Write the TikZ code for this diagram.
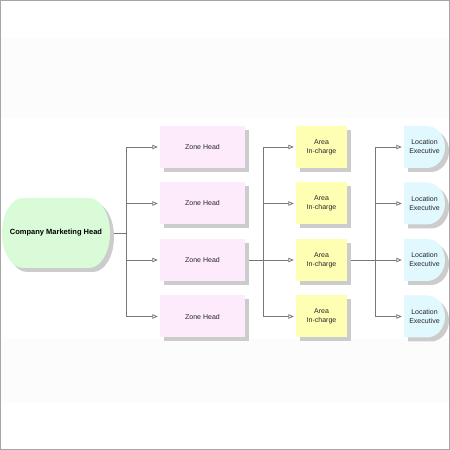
\documentclass[tikz,border=0pt]{standalone}
\usepackage{fontspec}
\setmainfont{Liberation Sans}
\usetikzlibrary{arrows.meta,shadows,backgrounds}
\definecolor{headgreen}{HTML}{D9FBD7}
\definecolor{zonepink}{HTML}{FDEBFC}
\definecolor{areayellow}{HTML}{FFFFB3}
\definecolor{loccyan}{HTML}{E0F8FE}
\definecolor{shadowgray}{HTML}{CCCCCC}
\definecolor{linkgray}{HTML}{787878}
\definecolor{bandgray}{HTML}{FCFCFC}

\begin{document}
\begin{tikzpicture}[x=1pt,y=1pt,
    box/.style={minimum height=42pt,inner sep=0pt,align=center,
        font=\fontsize{7}{9}\selectfont,text=black!85},
    shade/.style={drop shadow={shadow xshift=4pt,shadow yshift=-4pt,
        fill=shadowgray,opacity=1}},
    wire/.style={draw=linkgray,line width=0.8pt},
    link/.style={wire,-{Triangle[open,length=5.5pt,width=4.5pt,fill=white]},shorten >=2pt}]
    \useasboundingbox (0,0) rectangle (450,450);
    \fill[shadowgray] (27,248) -- (93,248) arc[start angle=90,end angle=-90,x radius=21pt,y radius=35pt]
        -- (27,178) arc[start angle=270,end angle=90,x radius=21pt,y radius=35pt] -- cycle;
    \fill[headgreen] (23,252) -- (89,252) arc[start angle=90,end angle=-90,x radius=21pt,y radius=35pt]
        -- (23,182) arc[start angle=270,end angle=90,x radius=21pt,y radius=35pt] -- cycle;
    \node[box,minimum width=108pt,minimum height=70pt,text=black,
        font=\bfseries\fontsize{7.5}{9}\selectfont] (head) at (56,217) {Company Marketing Head};
    \foreach \i/\r in {1/303,2/246.5,3/190,4/133.5} {
        \node[box,shade,fill=zonepink,minimum width=85pt] (zone\i) at (202.5,\r) {Zone Head};
        \node[box,shade,fill=areayellow,minimum width=51pt] (area\i) at (321.5,\r) {Area\\In-charge};
        \fill[shadowgray] (408,\r+17) -- (431,\r+17)
            arc[start angle=90,end angle=-90,x radius=18pt,y radius=21pt] -- (408,\r-25) -- cycle;
        \fill[loccyan] (404,\r+21) -- (427,\r+21)
            arc[start angle=90,end angle=-90,x radius=18pt,y radius=21pt] -- (404,\r-21) -- cycle;
        \node[box,minimum width=41pt] (loc\i) at (424.5,\r) {Location\\Executive};
    }
    \begin{scope}[on background layer]
        \fill[bandgray] (0,332) rectangle (450,412);
        \fill[bandgray] (0,47) rectangle (450,111);
        \draw[wire] (head.east) -- (126,217) coordinate (hub1);
        \draw[wire] (zone3.east) -- ++(18,0) coordinate (hub2);
        \draw[wire] (area3.east) -- ++(28,0) coordinate (hub3);
        \foreach \i in {1,...,4} {
            \draw[link] (hub1) |- (zone\i.west);
            \draw[link] (hub2) |- (area\i.west);
            \draw[link] (hub3) |- (loc\i.west);
        }
    \end{scope}
    \draw[black!35,line width=1pt] (0.5,0.5) rectangle (449.5,449.5);
\end{tikzpicture}
\end{document}
